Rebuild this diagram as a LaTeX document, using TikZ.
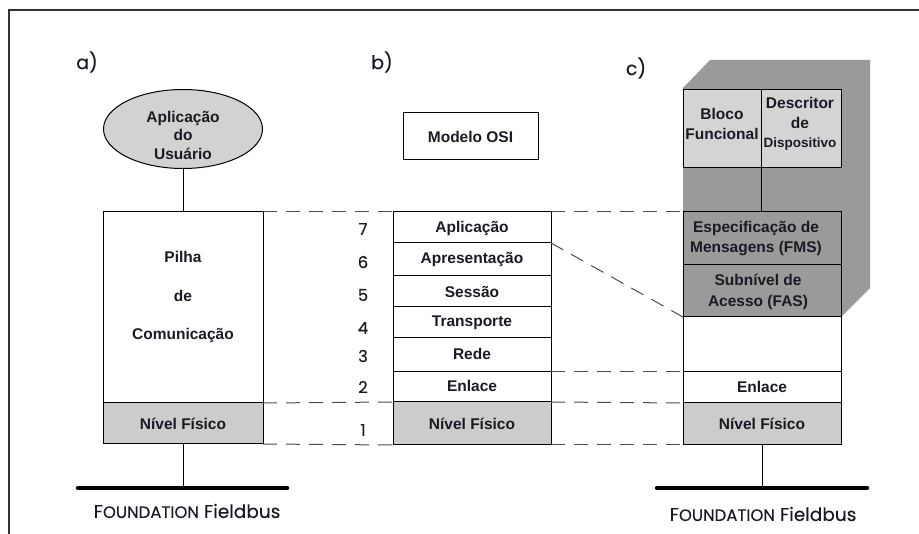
\documentclass[tikz,border=0pt]{standalone}
\usepackage{fontspec}
\setmainfont{Liberation Sans}
\newfontfamily\geofont[FakeBold=0.2]{Poppins}
\usetikzlibrary{shapes.geometric,fit}
\definecolor{lightfill}{HTML}{CCCCCC}
\definecolor{ellfill}{HTML}{D2D2D2}
\definecolor{blockfill}{HTML}{D4D4D4}
\definecolor{darkfill}{HTML}{9A9A9A}
\definecolor{inkcol}{HTML}{1A1A22}
\begin{document}
\begin{tikzpicture}[x=1pt,y=-1pt,
  cell/.style={draw, line width=1pt, inner sep=0pt, outer sep=0pt},
  lbl/.style={inner sep=0pt, text=inkcol, font=\fontsize{15.5}{19.5}\selectfont\bfseries, align=center},
  geo/.style={inner sep=0pt, text=inkcol, font=\geofont\fontsize{19}{21}\selectfont},
  num/.style={inner sep=0pt, text=inkcol, font=\geofont\fontsize{16.5}{18}\selectfont},
  link/.style={line width=1pt},
  dashline/.style={line width=1pt, draw=black!70, dash pattern=on 14pt off 9pt},
  bus/.style={line width=4.5pt, line cap=round},
  busname/.style={inner sep=0pt, text=inkcol, font=\geofont\fontsize{18.5}{20}\selectfont}]
\useasboundingbox (0,0) rectangle (919,534);

% outer frame
\draw[line width=1.6pt, draw=black!80] (9,534) -- (9,10) -- (919,10);

% ---------- a) ----------
\node[geo] (la) at (87,62) {a)};
\node[ellipse, draw, line width=1pt, fill=ellfill, minimum width=159pt, minimum height=79pt, inner sep=0pt, outer sep=0pt] (usr) at (183,129) {};
\node[lbl, font=\fontsize{15.5}{18.5}\selectfont\bfseries] (usrtxt) at (183,135) {Aplicação\\do\\Usuário};
\node[cell, fit={(103,212)(263,403)}] (pilha) {};
\node[lbl, font=\fontsize{15.5}{38.5}\selectfont\bfseries] (pilhatxt) at (183,297) {Pilha\\de\\Comunicação};
\node[cell, fill=lightfill, fit={(103,403)(263,444)}] (fisA) {};
\node[lbl] (fisAtxt) at (183,424) {Nível Físico};
\draw[link] (usr.south) -- (pilha.north);
\coordinate (busAl) at (78,488);
\coordinate (busAr) at (287,488);
\draw[bus] (busAl) -- (busAr);
\draw[link] (fisA.south) -- (fisA.south |- busAl);
\node[busname] (fbA) at (187,511) {F{\fontsize{16.5}{18}\selectfont OUNDATION} Fieldbus};

% ---------- b) ----------
\node[geo] (lb) at (382,62) {b)};
\node[cell, fit={(403,113)(538,160)}] (osi) {};
\node[lbl] (ositxt) at (470.5,137) {Modelo OSI};
\node[cell, fit={(393,212)(551,243)}] (app) {};
\node[cell, fit={(393,243)(551,276)}] (pres) {};
\node[cell, fit={(393,276)(551,307)}] (sess) {};
\node[cell, fit={(393,307)(551,338)}] (transp) {};
\node[cell, fit={(393,338)(551,372)}] (rede) {};
\node[cell, fit={(393,372)(551,402)}] (enlB) {};
\node[cell, fill=lightfill, fit={(393,402)(551,445)}] (fisB) {};
\node[lbl] (apptxt) at (472,228) {Aplicação};
\node[lbl] (prestxt) at (472,259.5) {Apresentação};
\node[lbl] (sesstxt) at (472,292) {Sessão};
\node[lbl] (transptxt) at (472,322.5) {Transporte};
\node[lbl] (redetxt) at (472,354) {Rede};
\node[lbl] (enlBtxt) at (472,386) {Enlace};
\node[lbl] (fisBtxt) at (472,424) {Nível Físico};
\node[num] (n7) at (363,229) {7};
\node[num] (n6) at (363,262) {6};
\node[num] (n5) at (363,295) {5};
\node[num] (n4) at (363,328) {4};
\node[num] (n3) at (363,356) {3};
\node[num] (n2) at (363,387) {2};
\node[num] (n1) at (363,430) {1};

% ---------- c) ----------
\node[geo] (lc) at (636,68) {c)};
\fill[darkfill] (683,88) -- (710,60) -- (870,60) -- (870,288) -- (841,317) -- (683,317) -- cycle;
\node[cell, fill=blockfill, fit={(683,90)(761,168)}] (bf) {};
\node[lbl] (bftxt) at (722,124) {Bloco\\Funcional};
\node[cell, fill=blockfill, fit={(761,90)(841,168)}] (dd) {};
\node[lbl] (ddtxt) at (800,124) {Descritor\\de\\{\fontsize{13.5}{15}\selectfont Dispositivo}};
\node[cell, fill=darkfill, fit={(683,212)(841,265)}] (fms) {};
\node[lbl, font=\fontsize{15.5}{20}\selectfont\bfseries] (fmstxt) at (756,238.5) {Especificação de\\Mensagens (FMS)};
\node[cell, fill=darkfill, fit={(683,265)(841,317)}] (fas) {};
\node[lbl, font=\fontsize{15.5}{20.5}\selectfont\bfseries] (fastxt) at (758,292) {Subnível de\\Acesso (FAS)};
\node[cell, fit={(683,317)(841,372)}] (blank) {};
\node[cell, fit={(683,372)(841,403)}] (enlC) {};
\node[lbl] (enlCtxt) at (762,386.5) {Enlace};
\node[cell, fill=lightfill, fit={(683,403)(841,445)}] (fisC) {};
\node[lbl] (fisCtxt) at (762,424) {Nível Físico};
\draw[link] (bf.south east) -- (bf.south east |- fms.north);
\coordinate (busCl) at (657,488);
\coordinate (busCr) at (867,488);
\draw[bus] (busCl) -- (busCr);
\draw[link] (fisC.south) -- (fisC.south |- busCl);
\node[busname] (fbC) at (763,514) {F{\fontsize{16.5}{18}\selectfont OUNDATION} Fieldbus};

% ---------- dashed correspondences ----------
\draw[dashline] (pilha.north east) -- (app.north west);
\draw[dashline] (app.north east) -- (fms.north west);
\draw[dashline] (pres.north east) -- (fas.south west);
\draw[dashline] (enlB.north east) -- (enlC.north west);
\draw[dashline] (fisA.north east) -- (fisB.north west);
\draw[dashline] (fisB.north east) -- (fisC.north west);
\draw[dashline] (fisA.south east) -- (fisB.south west);
\draw[dashline] (fisB.south east) -- (fisC.south west);
\end{tikzpicture}
\end{document}
